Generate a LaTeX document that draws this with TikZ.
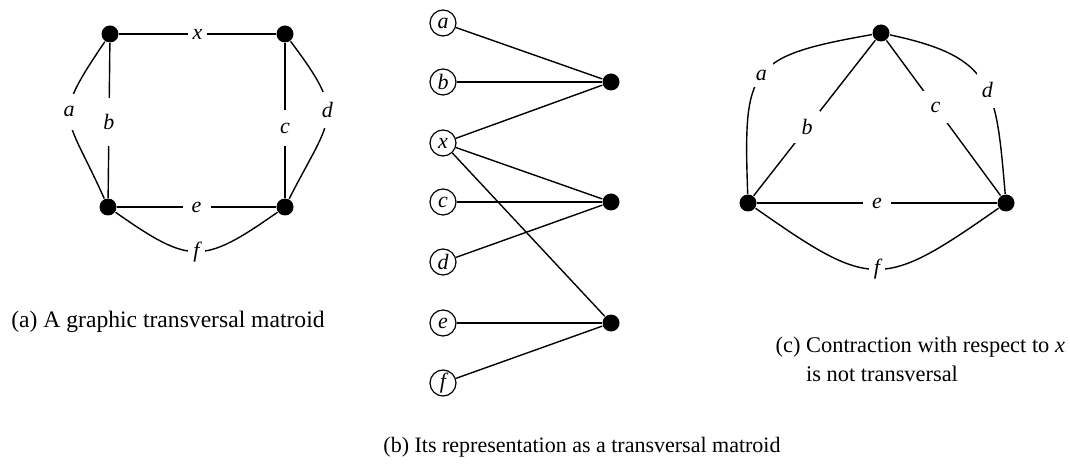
\documentclass[tikz,border=0pt]{standalone}
\usepackage{fontspec}
\setmainfont{Liberation Serif}
\begin{document}
\begin{tikzpicture}[x=0.5pt,y=0.5pt,
  line width=0.7pt,
  dot/.style={circle,fill=black,inner sep=0pt,minimum size=8.5pt},
  elem/.style={circle,draw,line width=0.6pt,inner sep=0pt,minimum size=13pt,
    font=\fontsize{11}{13}\selectfont\itshape},
  lbl/.style={fill=white,inner sep=2.5pt,font=\fontsize{11}{13}\selectfont\itshape},
  vlbl/.style={lbl,minimum height=18pt},
  dlbl/.style={lbl,minimum height=16pt,minimum width=13pt},
  hlbl/.style={lbl,minimum width=14pt},
  caption/.style={font=\fontsize{11}{14.5}\selectfont}]
\useasboundingbox (0,0) rectangle (1070,-470);

% (a) the graph
\node[dot] (A1) at (110,-34) {};
\node[dot] (A2) at (285,-34) {};
\node[dot] (A3) at (108,-207) {};
\node[dot] (A4) at (285,-207) {};
\draw (A1) -- node[lbl] {x} (A2);
\draw (A1) -- node[lbl,pos=0.51,minimum height=24pt] {b} (A3);
\draw (A2) -- node[vlbl,pos=0.55] {c} (A4);
\draw (A3) -- node[hlbl] {e} (A4);
\draw (A1) to[out=236,in=114,looseness=1.58] node[vlbl,pos=0.45] {a} (A3);
\draw (A2) to[out=-53,in=63,looseness=1.53] node[vlbl,pos=0.44] {d} (A4);
\draw (A3) to[out=-35,in=-145,looseness=1.45] node[lbl] {f} (A4);
\node[caption,font=\fontsize{11.8}{14.5}\selectfont,anchor=west] (capa) at (4,-322)
  {(a) A graphic transversal matroid};

% (b) the bipartite representation
\foreach \n/\y in {a/23,b/82,x/143,c/202,d/262,e/323,f/383}
  \node[elem] (e\n) at (443,-\y) {\n};
\node[dot] (R1) at (611,-82) {};
\node[dot] (R2) at (611,-202) {};
\node[dot] (R3) at (611,-323) {};
\draw (ea) -- (R1);
\draw (eb) -- (R1);
\draw (ex) -- (R1);
\draw (ex) -- (R2);
\draw (ex) -- (R3);
\draw (ec) -- (R2);
\draw (ed) -- (R2);
\draw (ee) -- (R3);
\draw (ef) -- (R3);
\node[caption] (capb) at (582,-447) {(b) Its representation as a transversal matroid};

% (c) the contraction by x
\node[dot] (C1) at (881,-33) {};
\node[dot] (C2) at (748,-203) {};
\node[dot] (C3) at (1006,-203) {};
\draw (C1) -- node[dlbl,pos=0.56] {b} (C2);
\draw (C1) -- node[dlbl,pos=0.43] {c} (C3);
\draw (C2) -- node[hlbl] {e} (C3);
\draw (C1) to[out=190,in=92,looseness=1.6] node[lbl,minimum size=12pt,pos=0.5] {a} (C2);
\draw (C1) to[out=-12,in=95,looseness=1.4] node[vlbl,pos=0.55] {d} (C3);
\draw (C2) to[out=-35,in=-145,looseness=1.5] node[lbl] {f} (C3);
\node[caption,font=\fontsize{11.2}{14.5}\selectfont,anchor=north west,inner sep=0pt] (capc) at (775,-331)
  {\begin{tabular}{@{}l@{ }l@{}}(c) & Contraction with respect to \textit{x}\\ & is not transversal\end{tabular}};
\end{tikzpicture}
\end{document}
